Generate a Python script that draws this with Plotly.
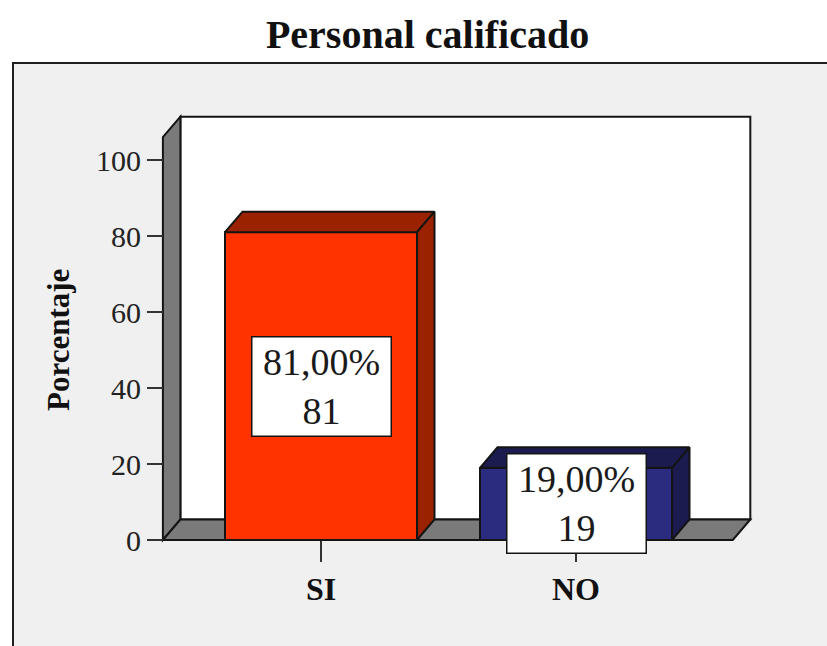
import plotly.graph_objects as go

# --- data -------------------------------------------------------------
categories = ["SI", "NO"]
counts = [81, 19]
y_ticks = [0, 20, 40, 60, 80, 100]

total = sum(counts)
percent = [c / total * 100 for c in counts]
labels = [f"{p:.2f}".replace(".", ",") + f"%<br>{c}" for p, c in zip(percent, counts)]

front_colors = ["#ff3300", "#2b2c80"]
dark_colors = ["#9a2200", "#1b1b4f"]

# --- geometry of the 3D box (data units) -------------------------------
W, H = 827, 646
M_L, M_R, M_T, M_B = 143, 57, 110, 90
PX_X = 255.0          # pixels per category step
PX_Y = 3.8            # pixels per percentage point
X_FIRST_PX = 321.0    # pixel column of the first category
Y_ZERO_PX = 540.0     # pixel row of 0 %

x_range = [(M_L - X_FIRST_PX) / PX_X, (W - M_R - X_FIRST_PX) / PX_X]
y_range = [(Y_ZERO_PX - (H - M_B)) / PX_Y, (Y_ZERO_PX - M_T) / PX_Y]

BAR_W = 0.753
DX, DY = 0.0686, 5.4          # depth offset of the 3D effect
X_LEFT, X_RIGHT = -0.62, 1.615  # front edges of wall / floor
Y_TOP = 106.0                 # front top of the wall


def to_px(xp, yp):
    """paper fractions from page pixels"""
    pw = W - M_L - M_R
    ph = H - M_T - M_B
    return (xp - M_L) / pw, (H - M_B - yp) / ph


def poly(pts):
    return "M " + " L ".join(f"{x},{y}" for x, y in pts) + " Z"


EDGE = dict(color="#141414", width=2)
shapes = []

# outer light-grey frame
fx0, fy0 = to_px(13, 63)
fx1, fy1 = to_px(W + 40, H + 40)
shapes.append(dict(type="rect", xref="paper", yref="paper", layer="below",
                   x0=fx0, y0=fy1, x1=fx1, y1=fy0,
                   fillcolor="#f0f0f0", line=dict(color="#1e1e1e", width=2)))

# back wall
shapes.append(dict(type="path", xref="x", yref="y", layer="below",
                   path=poly([(X_LEFT + DX, DY), (X_RIGHT + DX, DY),
                              (X_RIGHT + DX, Y_TOP + DY), (X_LEFT + DX, Y_TOP + DY)]),
                   fillcolor="white", line=EDGE))
# left side wall
shapes.append(dict(type="path", xref="x", yref="y", layer="below",
                   path=poly([(X_LEFT, 0), (X_LEFT, Y_TOP),
                              (X_LEFT + DX, Y_TOP + DY), (X_LEFT + DX, DY)]),
                   fillcolor="#7a7a7a", line=EDGE))
# floor
shapes.append(dict(type="path", xref="x", yref="y", layer="below",
                   path=poly([(X_LEFT, 0), (X_RIGHT, 0),
                              (X_RIGHT + DX, DY), (X_LEFT + DX, DY)]),
                   fillcolor="#7a7a7a", line=EDGE))

fig = go.Figure()

# front faces of the bars
fig.add_trace(go.Bar(
    x=list(range(len(categories))), y=percent, width=BAR_W,
    marker=dict(color=front_colors, line=dict(color="#141414", width=2)),
    hoverinfo="skip", showlegend=False,
))

# top and side faces
for i, v in enumerate(percent):
    xl, xr = i - BAR_W / 2, i + BAR_W / 2
    top = [(xl, v), (xr, v), (xr + DX, v + DY), (xl + DX, v + DY), (xl, v)]
    side = [(xr, 0), (xr, v), (xr + DX, v + DY), (xr + DX, DY), (xr, 0)]
    for face in (top, side):
        fig.add_trace(go.Scatter(
            x=[p[0] for p in face], y=[p[1] for p in face],
            mode="lines", fill="toself", fillcolor=dark_colors[i],
            line=dict(color="#141414", width=2),
            hoverinfo="skip", showlegend=False,
        ))

# value boxes
annotations = []
for i, v in enumerate(percent):
    annotations.append(dict(
        x=i, y=v / 2, xref="x", yref="y", text=labels[i], showarrow=False,
        font=dict(family="Liberation Serif", size=38, color="#1a1a1a"),
        bgcolor="white", bordercolor="#141414", borderwidth=1.5,
        width=138, height=98, borderpad=0,
    ))

# axis title
ax_x, ax_y = to_px(58, 340)
annotations.append(dict(
    x=ax_x, y=ax_y, xref="paper", yref="paper", text="<b>Porcentaje</b>",
    textangle=-90, showarrow=False, xanchor="center", yanchor="middle",
    font=dict(family="Liberation Serif", size=31, color="#111"),
))

y_anchor_pos = (X_LEFT - x_range[0]) / (x_range[1] - x_range[0])
x_anchor_pos = (0 - y_range[0]) / (y_range[1] - y_range[0])

fig.update_layout(
    width=W, height=H,
    margin=dict(l=M_L, r=M_R, t=M_T, b=M_B),
    paper_bgcolor="white", plot_bgcolor="rgba(0,0,0,0)",
    title=dict(text="<b>Personal calificado</b>", x=0.517, y=1 - 34 / H,
               xref="container", yref="container",
               xanchor="center", yanchor="middle",
               font=dict(family="Liberation Serif", size=40, color="#111")),
    xaxis=dict(range=x_range, tickvals=list(range(len(categories))),
               ticktext=categories, ticks="outside", ticklen=21, tickwidth=2,
               tickcolor="#333", showgrid=False, zeroline=False, showline=False,
               anchor="free", position=x_anchor_pos,
               tickfont=dict(family="Liberation Serif", size=32, color="#111",
                             weight="bold")),
    yaxis=dict(range=y_range, tickvals=y_ticks, ticks="outside", ticklen=16,
               tickwidth=2, tickcolor="#333", showgrid=False, zeroline=False,
               showline=False, anchor="free", position=y_anchor_pos,
               tickfont=dict(family="Liberation Serif", size=30, color="#222")),
    shapes=shapes, annotations=annotations, bargap=0,
)

fig.write_html("out.html")
